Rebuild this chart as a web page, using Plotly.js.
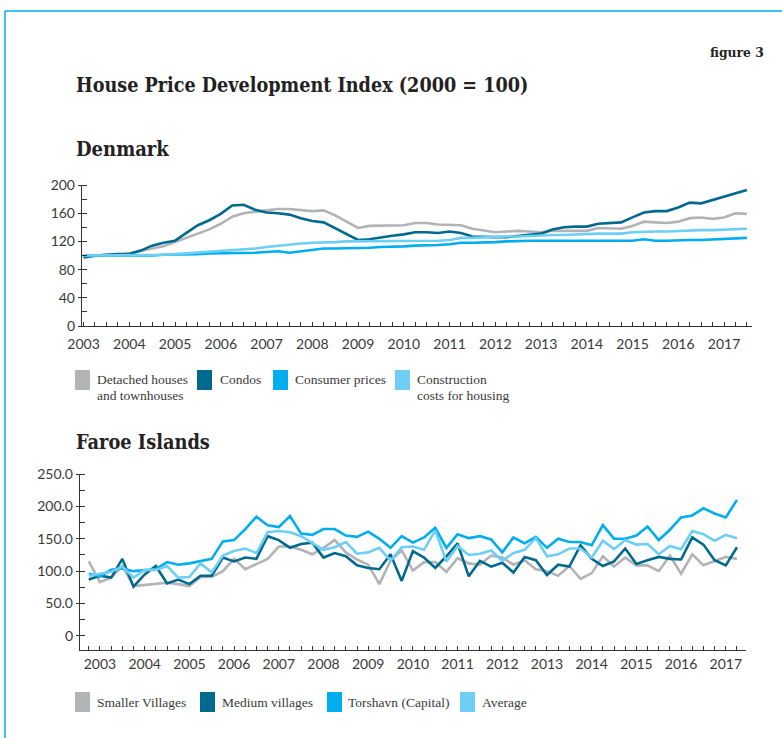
<!DOCTYPE html>
<html>
<head>
<meta charset="utf-8">
<script src="https://cdn.plot.ly/plotly-3.0.1.min.js"></script>
<style>
html,body{margin:0;padding:0;background:#fff;}
#chart{width:782px;height:738px;}
</style>
</head>
<body>
<div id="chart"></div>
<script>
// ---------- DATA ----------
// Denmark: quarterly, first quarter 2003
const dkStartYear = 2003.0;
const dkSeriesNames = ["Detached houses and townhouses", "Condos", "Consumer prices", "Construction costs for housing"];
const dkDetached = [96,100,101,101,103,107,110,113,119,125,
  131,137,145,155,160,162,164,166,166,165,
  163,164,157,148,139,142,142,142,143,146,
  146,144,144,143,138,135,133,134,135,134,
  133,135,135,135,135,139,139,138,142,148,
  147,146,148,153,154,152,154,160,159];
const dkCondos = [98,100,101,102,102,107,114,118,121,132,
  143,150,159,171,172,165,161,160,158,153,
  149,147,139,130,122,123,126,128,130,133,
  133,132,134,132,127,126,126,126,128,130,
  131,137,140,141,141,145,146,147,154,161,
  163,163,168,175,174,179,183,189,193];
const dkConsumer = [100,100,100,99,99,100,100,101,101,101,
  102,103,103,103,104,104,105,106,104,106,
  108,110,110,110,110,111,112,112,113,114,
  114,115,116,118,118,118,119,120,121,121,
  121,121,122,122,122,122,121,121,121,123,
  121,121,122,122,122,123,124,124,125];
const dkConstruction = [100,100,100,100,100,100,101,101,102,103,
  104,105,106,107,108,110,112,114,116,117,
  118,118,119,120,120,120,120,120,120,121,
  121,121,122,125,125,126,126,127,127,128,
  128,129,129,130,130,131,131,131,133,134,
  134,134,135,135,136,136,137,137,138];

// Faroe Islands: quarterly
const foStartYear = 2002.75;
const foSeriesNames = ["Smaller Villages", "Medium villages", "Torshavn (Capital)", "Average"];
const foSmaller = [115,83,90,108,77,79,81,82,80,77,
  91,91,100,119,103,111,119,138,138,133,
  126,136,148,129,118,110,80,116,132,101,
  114,114,99,120,112,110,124,121,110,117,
  103,100,93,108,88,97,123,107,121,109,
  109,100,124,96,126,109,115,122,119];
const foMedium = [87,93,90,119,76,95,108,81,87,80,
  93,93,121,115,121,119,154,148,136,142,
  144,121,128,123,109,105,103,126,85,131,
  121,105,123,143,92,116,107,113,98,122,
  117,94,110,107,140,119,108,115,135,111,
  117,122,119,118,152,141,117,109,137];
const foTorshavn = [96,92,102,104,100,102,103,114,110,112,
  115,119,146,148,165,184,171,168,185,158,
  156,165,165,155,153,161,150,136,154,144,
  152,167,136,157,151,154,149,129,152,143,
  153,136,150,145,145,140,171,150,150,155,
  169,148,164,183,186,197,189,183,210];
const foAverage = [93,96,99,107,90,102,102,108,90,91,
  112,98,124,131,135,128,160,162,160,154,
  143,133,137,145,127,129,136,116,137,138,
  133,163,115,139,125,127,132,116,128,133,
  151,123,126,135,135,121,147,134,148,141,
  142,126,139,134,162,157,147,156,151];

const dkYTicks = [0,40,80,120,160,200];
const foYTicks = [0,50,100,150,200,250];
const foYTickText = ["0","50.0","100.0","150.0","200.0","250.0"];

const colors = ["#b1b3b6", "#006a8e", "#00aeef", "#6dcff6"];

// ---------- BUILD ----------
function quarters(start, n){ const a=[]; for(let i=0;i<n;i++) a.push(start + 0.25*i); return a; }
const dkX = quarters(dkStartYear, dkCondos.length);
const foX = quarters(foStartYear, foMedium.length);

const W = 782, H = 738;
const X = p => p / W;
const Y = p => 1 - p / H;

const traces = [];
[dkDetached, dkCondos, dkConsumer, dkConstruction].forEach((s, k) => {
  traces.push({x: dkX, y: s, type: 'scatter', mode: 'lines', name: dkSeriesNames[k],
    line: {color: colors[k], width: 2.6}, xaxis: 'x', yaxis: 'y', hoverinfo: 'skip'});
});
[foSmaller, foMedium, foTorshavn, foAverage].forEach((s, k) => {
  traces.push({x: foX, y: s, type: 'scatter', mode: 'lines', name: foSeriesNames[k],
    line: {color: colors[k], width: 2.6}, xaxis: 'x2', yaxis: 'y2', hoverinfo: 'skip'});
});

const tickFont = {family: "Lato, 'Liberation Sans', sans-serif", size: 14, color: '#3a3a3a'};
const axisCol = '#333333';

function xAxis(domain, range, anchor, standoff){
  return {domain: domain, range: range, anchor: anchor, tickmode: 'linear', tick0: 2003, dtick: 1,
    ticks: 'inside', ticklen: 4, tickwidth: 1, tickcolor: axisCol, showline: true, linecolor: axisCol,
    linewidth: 1.2, showgrid: false, zeroline: false, tickfont: tickFont, fixedrange: true,
    ticklabelstandoff: standoff,
    minor: {tick0: 2003, dtick: 0.25, ticks: 'inside', ticklen: 4, tickwidth: 1, tickcolor: axisCol, showgrid: false}};
}

const serif = "'Liberation Serif', serif";
const slab = "'DejaVu Serif Condensed', 'DejaVu Serif', serif";
const textCol = '#3a3a3a';

const annotations = [
  {text: '<b>figure 3</b>', x: X(766), y: Y(52), xanchor: 'right', yanchor: 'middle', font: {family: slab, size: 13.7, color: '#222'}},
  {text: '<b>House Price Development Index (2000 = 100)</b>', x: X(74), y: Y(85), xanchor: 'left', yanchor: 'middle', font: {family: slab, size: 19.6, color: '#222'}},
  {text: '<b>Denmark</b>', x: X(74), y: Y(149), xanchor: 'left', yanchor: 'middle', font: {family: slab, size: 20, color: '#222'}},
  {text: '<b>Faroe Islands</b>', x: X(74), y: Y(442), xanchor: 'left', yanchor: 'middle', font: {family: slab, size: 19.8, color: '#222'}}
];
const shapes = [
  {type: 'line', xref: 'paper', yref: 'paper', x0: X(5), x1: X(5), y0: Y(11), y1: Y(738), line: {color: '#00aeef', width: 1.5}},
  {type: 'line', xref: 'paper', yref: 'paper', x0: X(5), x1: X(782), y0: Y(11), y1: Y(11), line: {color: '#00aeef', width: 1.5}}
];

// legends
const dkLegend = [
  {sq: 75, tx: 95, lines: ["Detached houses", "and townhouses"]},
  {sq: 197, tx: 218, lines: ["Condos"]},
  {sq: 273, tx: 293, lines: ["Consumer prices"]},
  {sq: 395, tx: 415, lines: ["Construction", "costs for housing"]}
];
const foLegend = [
  {sq: 75, tx: 95, lines: [foSeriesNames[0]]},
  {sq: 200, tx: 220, lines: [foSeriesNames[1]]},
  {sq: 327, tx: 346, lines: [foSeriesNames[2]]},
  {sq: 460, tx: 480, lines: [foSeriesNames[3]]}
];
function addLegend(items, top, textY){
  items.forEach((it, k) => {
    shapes.push({type: 'rect', xref: 'paper', yref: 'paper', x0: X(it.sq), x1: X(it.sq + 15), y0: Y(top), y1: Y(top + 20),
      fillcolor: colors[k], line: {width: 0}});
    it.lines.forEach((ln, m) => {
      annotations.push({text: ln, x: X(it.tx), y: Y(textY + 16*m), xanchor: 'left', yanchor: 'middle', showarrow: false,
        font: {family: serif, size: 13.5, color: textCol}});
    });
  });
}
addLegend(dkLegend, 370, 379);
addLegend(foLegend, 692, 702);

annotations.forEach(a => { a.xref = 'paper'; a.yref = 'paper'; a.showarrow = false; });

const layout = {
  width: W, height: H, autosize: false, margin: {l: 0, r: 0, t: 0, b: 0},
  paper_bgcolor: '#fff', plot_bgcolor: 'rgba(0,0,0,0)', showlegend: false,
  xaxis: xAxis([X(82), X(752)], [2002.967, 2017.612], 'y', 5),
  yaxis: {domain: [Y(326), Y(185)], range: [0, 200], anchor: 'x', tickmode: 'array', tickvals: dkYTicks,
    ticks: 'outside', ticklen: 3, tickcolor: axisCol, showline: true, linecolor: axisCol, linewidth: 1.2,
    showgrid: false, zeroline: false, tickfont: tickFont, fixedrange: true,
    minor: {tickmode: 'linear', tick0: 0, dtick: 20, ticks: 'inside', ticklen: 5, tickcolor: axisCol, showgrid: false}},
  xaxis2: xAxis([X(80), X(746)], [2002.553, 2017.452], 'y2', 1),
  yaxis2: {domain: [Y(650), Y(474)], range: [-21.7, 250], anchor: 'x2', tickmode: 'array', tickvals: foYTicks, ticktext: foYTickText,
    ticks: 'outside', ticklen: 3, tickcolor: axisCol, showline: true, linecolor: axisCol, linewidth: 1.2,
    showgrid: false, zeroline: false, tickfont: tickFont, fixedrange: true,
    minor: {tickmode: 'linear', tick0: 0, dtick: 25, ticks: 'inside', ticklen: 5, tickcolor: axisCol, showgrid: false}},
  annotations: annotations,
  shapes: shapes
};

Plotly.newPlot('chart', traces, layout, {staticPlot: true, displayModeBar: false});
</script>
</body>
</html>
